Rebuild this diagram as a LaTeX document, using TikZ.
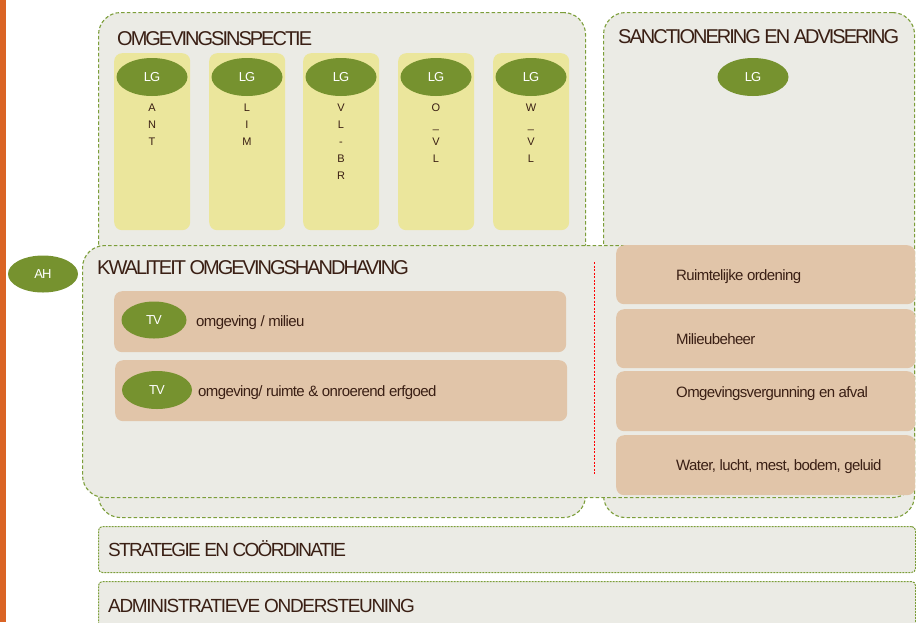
\documentclass[tikz,border=0pt]{standalone}
\usepackage{fontspec}
\setmainfont{Liberation Sans}
\usetikzlibrary{shapes.geometric}

\definecolor{panelgrey}{HTML}{EBEBE5}
\definecolor{dashgreen}{HTML}{7C9E3A}
\definecolor{lggreen}{HTML}{76922F}
\definecolor{colyellow}{HTML}{EBE69C}
\definecolor{tanfill}{HTML}{E1C5A9}
\definecolor{darktext}{HTML}{3A1F14}
\definecolor{sidebar}{HTML}{DA6425}

\tikzset{
  panel/.style={draw=dashgreen, fill=panelgrey, line width=1.1pt, dash pattern=on 3.5pt off 2.2pt, rounded corners=22pt, anchor=north west, inner sep=0pt},
  band/.style={draw=dashgreen, fill=panelgrey, line width=1pt, dash pattern=on 2pt off 1pt, rounded corners=4pt, anchor=north west, inner sep=0pt},
  headtext/.style={anchor=base west, text=darktext, inner sep=0pt, font=\fontsize{20}{24}\selectfont\addfontfeature{LetterSpace=-10}},
  column/.style={fill=colyellow, rounded corners=8pt, minimum width=76pt, minimum height=177pt, anchor=north west, inner sep=0pt},
  badge/.style={ellipse, fill=lggreen, text=white, minimum width=71pt, minimum height=38pt, inner sep=0pt, font=\fontsize{13}{15}\selectfont\addfontfeature{LetterSpace=-8}},
  letters/.style={anchor=north, align=center, text=darktext, inner sep=0pt, font=\fontsize{11}{17}\selectfont},
  tanpanel/.style={fill=tanfill, rounded corners=8pt, anchor=north west, inner sep=0pt},
  itemtext/.style={anchor=base west, text=darktext, inner sep=0pt, font=\fontsize{15}{18}\selectfont\addfontfeature{LetterSpace=-4}},
}

\begin{document}
\begin{tikzpicture}[x=1pt,y=-1pt]
  \clip (0,0) rectangle (916,622);
  \fill[sidebar] (0,0) rectangle (6,622);

  % two upper panels
  \node[panel, minimum width=487pt, minimum height=505pt] (oi) at (98,12) {};
  \node[panel, minimum width=311pt, minimum height=505pt] (sa) at (603,12) {};
  \node[headtext] (oititle) at (117,45) {OMGEVINGSINSPECTIE};
  \node[headtext] (satitle) at (618,43) {SANCTIONERING EN ADVISERING};

  % provincial columns
  \node[column] (ant)  at (114,53) {};
  \node[column] (lim)  at (209,53) {};
  \node[column] (vlbr) at (303,53) {};
  \node[column] (ovl)  at (398,53) {};
  \node[column] (wvl)  at (493,53) {};

  \node[badge] (lgant)  at (152,77) {LG};
  \node[badge] (lglim)  at (247,77) {LG};
  \node[badge] (lgvlbr) at (341,77) {LG};
  \node[badge] (lgovl)  at (436,77) {LG};
  \node[badge] (lgwvl)  at (531,77) {LG};
  \node[badge] (lgsa)   at (753,77) {LG};

  \node[letters] (tant)  at (152,104) {A\\N\\T};
  \node[letters] (tlim)  at (247,104) {L\\I\\M};
  \node[letters] (tvlbr) at (341,104) {V\\L\\-\\B\\R};
  \node[letters] (tovl)  at (436,104) {O\\\_\\V\\L};
  \node[letters] (twvl)  at (531,104) {W\\\_\\V\\L};

  % quality panel
  \node[panel, minimum width=832pt, minimum height=252pt] (ko) at (82,245) {};
  \node[headtext] (kotitle) at (97,274) {KWALITEIT OMGEVINGSHANDHAVING};
  \node[badge, minimum width=70pt, minimum height=37pt] (ah) at (43,274) {AH};

  \node[tanpanel, minimum width=452pt, minimum height=61pt] (milieu) at (114,291) {};
  \node[tanpanel, minimum width=452pt, minimum height=61pt] (ruimte) at (115,360) {};
  \node[badge, minimum width=65pt, minimum height=37pt] (tvmilieu) at (154,320) {TV};
  \node[badge, minimum width=70pt, minimum height=38pt] (tvruimte) at (157,390) {TV};
  \node[itemtext] (tmilieu) at (196,326) {omgeving / milieu};
  \node[itemtext] (truimte) at (198,396) {omgeving/ ruimte \& onroerend erfgoed};

  \coordinate (divtop) at (594,262);
  \coordinate (divbot) at (594,474);
  \draw[red, line width=0.7pt, dash pattern=on 2pt off 1.5pt] (divtop) -- (divbot);

  % themes on the right
  \node[tanpanel, minimum width=299pt, minimum height=59pt] (ro)  at (616,245) {};
  \node[tanpanel, minimum width=299pt, minimum height=59pt] (mb)  at (616,309) {};
  \node[tanpanel, minimum width=299pt, minimum height=60pt] (ova) at (616,371) {};
  \node[tanpanel, minimum width=299pt, minimum height=60pt] (wlm) at (616,435) {};
  \node[itemtext] (tro)  at (676,280) {Ruimtelijke ordening};
  \node[itemtext] (tmb)  at (676,344) {Milieubeheer};
  \node[itemtext] (tova) at (676,397) {Omgevingsvergunning en afval};
  \node[itemtext] (twlm) at (676,470) {Water, lucht, mest, bodem, geluid};

  % bottom bands
  \node[band, minimum width=817pt, minimum height=46pt] (sc) at (98,526) {};
  \node[band, minimum width=817pt, minimum height=60pt] (ao) at (98,581) {};
  \node[headtext, font=\fontsize{19}{22}\selectfont\addfontfeature{LetterSpace=-9}] (sctitle) at (108,556) {STRATEGIE EN COÖRDINATIE};
  \node[headtext, font=\fontsize{19}{22}\selectfont\addfontfeature{LetterSpace=-7}] (aotitle) at (108,612) {ADMINISTRATIEVE ONDERSTEUNING};
\end{tikzpicture}
\end{document}
